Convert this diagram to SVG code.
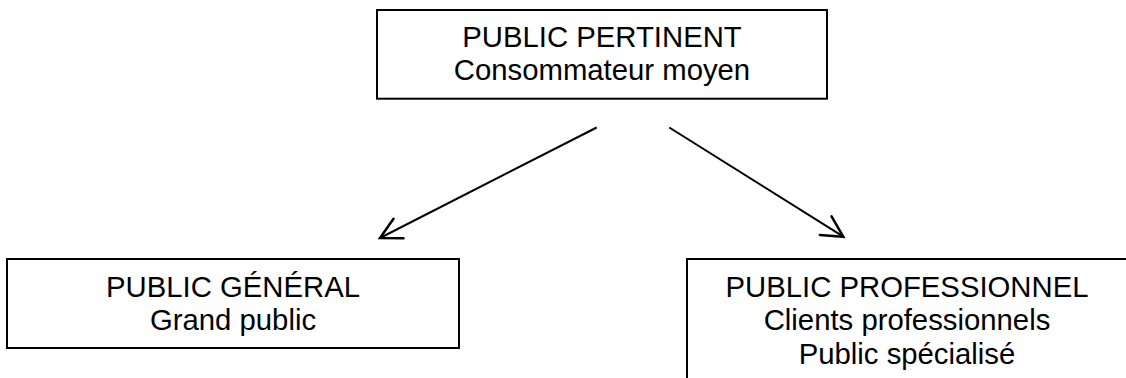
<svg xmlns="http://www.w3.org/2000/svg" width="1126" height="378" viewBox="0 0 1126 378">
  <style>
    .box { fill: #ffffff; stroke: #000000; stroke-width: 2; }
    .lbl { font-family: "Liberation Sans", Arial, sans-serif; font-size: 29.3px; fill: #000000; text-anchor: middle; }
    .conn { stroke: #000000; stroke-width: 2; fill: none; }
  </style>
  <defs>
    <marker id="arrow" markerUnits="userSpaceOnUse" markerWidth="30" markerHeight="30" refX="0" refY="0" viewBox="-22 -12 26 24" orient="auto" overflow="visible">
      <path d="M -18,-9.5 L 0,0 L -18,9.5" fill="none" stroke="#000000" stroke-width="2.2" stroke-linecap="round" stroke-linejoin="miter"/>
    </marker>
  </defs>
  <rect width="1126" height="378" fill="#ffffff"/>
  <g id="node-pertinent">
    <rect class="box" x="377" y="10" width="450" height="88.7"/>
    <text class="lbl" x="602" y="46.7">PUBLIC PERTINENT</text>
    <text class="lbl" x="602" y="80.4">Consommateur moyen</text>
  </g>
  <g id="node-general">
    <rect class="box" x="7" y="259" width="452" height="89"/>
    <text class="lbl" x="233" y="296.7">PUBLIC GÉNÉRAL</text>
    <text class="lbl" x="233" y="330.4">Grand public</text>
  </g>
  <g id="node-professionnel">
    <rect class="box" x="687" y="259" width="442" height="130"/>
    <text class="lbl" x="907" y="296.7">PUBLIC PROFESSIONNEL</text>
    <text class="lbl" x="907" y="330.4">Clients professionnels</text>
    <text class="lbl" x="907" y="364">Public spécialisé</text>
  </g>
  <g id="connectors">
    <line class="conn" x1="596.7" y1="127.5" x2="380" y2="238" marker-end="url(#arrow)"/>
    <line class="conn" x1="669.3" y1="127.5" x2="843.3" y2="236.7" marker-end="url(#arrow)"/>
  </g>
</svg>
